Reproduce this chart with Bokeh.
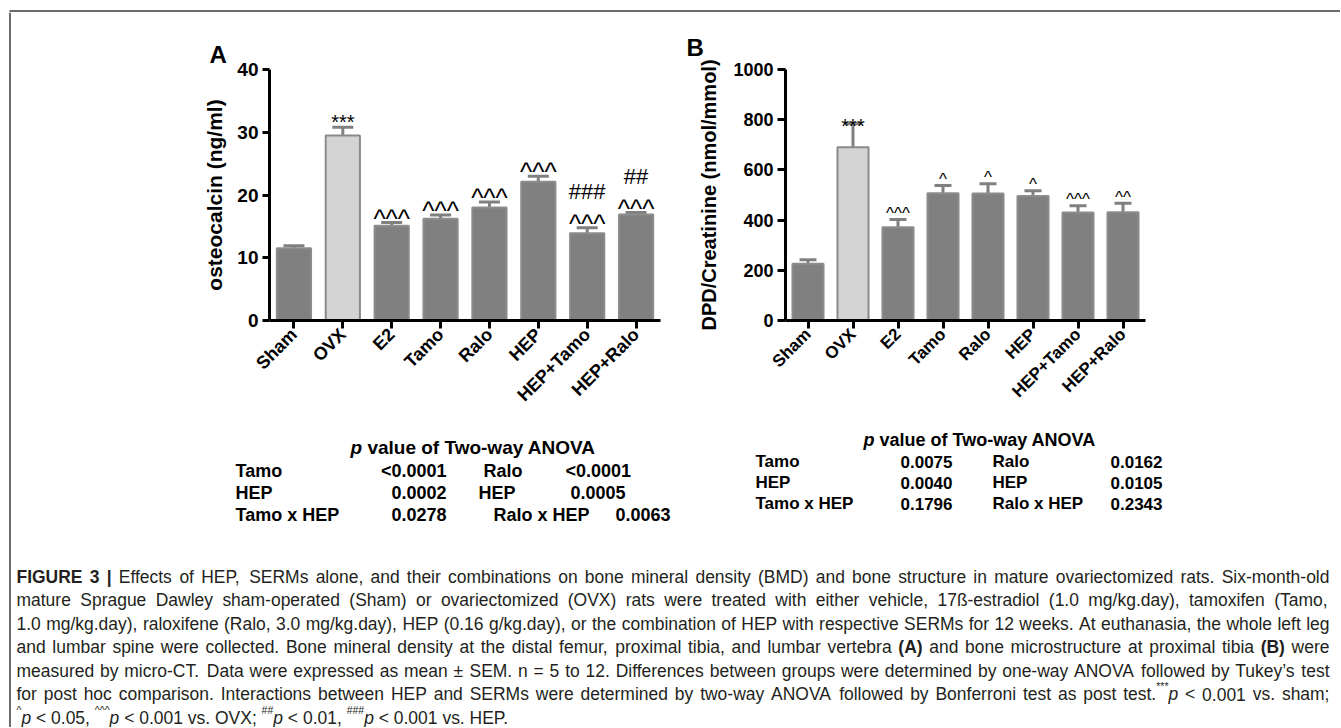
import math
from bokeh.plotting import figure
from bokeh.models import ColumnDataSource, Range1d, FactorRange, Whisker, TeeHead, FixedTicker
from bokeh.layouts import row, column
from bokeh.embed import file_html
from bokeh.resources import INLINE
from bokeh.core.properties import value

# ---------------- data ----------------
groups = ["Sham", "OVX", "E2", "Tamo", "Ralo", "HEP", "HEP+Tamo", "HEP+Ralo"]

osteocalcin_mean = [11.5, 29.5, 15.1, 16.2, 18.0, 22.1, 13.9, 16.9]
osteocalcin_sem = [0.4, 1.3, 0.5, 0.6, 0.9, 0.9, 0.9, 0.3]
osteocalcin_sig = ["", "***", "^^^", "^^^", "^^^", "^^^", "^^^", "^^^"]
osteocalcin_sig_hep = ["", "", "", "", "", "", "###", "##"]
osteocalcin_ticks = [0, 10, 20, 30, 40]

dpd_mean = [226, 690, 372, 507, 506, 496, 430, 431]
dpd_sem = [16, 94, 30, 31, 39, 21, 27, 36]
dpd_sig = ["", "***", "^^^", "^", "^", "^", "^^^", "^^"]
dpd_sig_hep = ["", "", "", "", "", "", "", ""]
dpd_ticks = [0, 200, 400, 600, 800, 1000]

anova_title = "value of Two-way ANOVA"
anova_a_tamo_terms = ["Tamo", "HEP", "Tamo x HEP"]
anova_a_tamo_p = ["<0.0001", "0.0002", "0.0278"]
anova_a_ralo_terms = ["Ralo", "HEP", "Ralo x HEP"]
anova_a_ralo_p = ["<0.0001", "0.0005", "0.0063"]
anova_b_tamo_terms = ["Tamo", "HEP", "Tamo x HEP"]
anova_b_tamo_p = ["0.0075", "0.0040", "0.1796"]
anova_b_ralo_terms = ["Ralo", "HEP", "Ralo x HEP"]
anova_b_ralo_p = ["0.0162", "0.0105", "0.2343"]

caption_lines = [
    [("b", "FIGURE 3 | "), ("n", "Effects of HEP, SERMs alone, and their combinations on bone mineral density (BMD) and bone structure in mature ovariectomized rats. Six-month-old")],
    [("n", "mature Sprague Dawley sham-operated (Sham) or ovariectomized (OVX) rats were treated with either vehicle, 17\u00df-estradiol (1.0 mg/kg.day), tamoxifen (Tamo,")],
    [("n", "1.0 mg/kg.day), raloxifene (Ralo, 3.0 mg/kg.day), HEP (0.16 g/kg.day), or the combination of HEP with respective SERMs for 12 weeks. At euthanasia, the whole left leg")],
    [("n", "and lumbar spine were collected. Bone mineral density at the distal femur, proximal tibia, and lumbar vertebra "), ("b", "(A)"), ("n", " and bone microstructure at proximal tibia "), ("b", "(B)"), ("n", " were")],
    [("n", "measured by micro-CT. Data were expressed as mean \u00b1 SEM. n = 5 to 12. Differences between groups were determined by one-way ANOVA followed by Tukey\u2019s test")],
    [("n", "for post hoc comparison. Interactions between HEP and SERMs were determined by two-way ANOVA followed by Bonferroni test as post test."), ("s", "***"), ("i", "p"), ("n", " < 0.001 vs. sham;")],
    [("s", "^"), ("i", "p"), ("n", " < 0.05, "), ("s", "^^^"), ("i", "p"), ("n", " < 0.001 vs. OVX; "), ("s", "##"), ("i", "p"), ("n", " < 0.01, "), ("s", "###"), ("i", "p"), ("n", " < 0.001 vs. HEP.")],
]

# ---------------- styling ----------------
SANS = "Liberation Sans"
BAR = "#808080"
BAR_LINE = "#8c8c8c"
OVX_FILL = "#d4d4d4"
OVX_LINE = "#8a8a8a"
BORDER = "#6b6b6b"
STRIP_T, STRIP_L = 12, 11        # border strips (top / left)
ORIGIN_X, ORIGIN_Y = STRIP_L, STRIP_T
SPLIT_Y = 425                    # bottom of the chart panels (page px)
PAGE_R, PAGE_B = 1340, 727

H_W = {' ': 278, '!': 278, '"': 355, '#': 556, '%': 889, '&': 667, "'": 191, '(': 333, ')': 333, '*': 389,
       '+': 584, ',': 278, '-': 333, '.': 278, '/': 278, ':': 278, ';': 278, '<': 584, '=': 584, '>': 584,
       '?': 556, '^': 469, '|': 260, '\u00b1': 584, '\u00df': 611, '\u2019': 222,
       'A': 667, 'B': 667, 'C': 722, 'D': 722, 'E': 667, 'F': 611, 'G': 778, 'H': 722, 'I': 278, 'J': 500,
       'K': 667, 'L': 556, 'M': 833, 'N': 722, 'O': 778, 'P': 667, 'Q': 778, 'R': 722, 'S': 667, 'T': 611,
       'U': 722, 'V': 667, 'W': 944, 'X': 667, 'Y': 667, 'Z': 611,
       'a': 556, 'b': 556, 'c': 500, 'd': 556, 'e': 556, 'f': 278, 'g': 556, 'h': 556, 'i': 222, 'j': 222,
       'k': 500, 'l': 222, 'm': 833, 'n': 556, 'o': 556, 'p': 556, 'q': 556, 'r': 333, 's': 500, 't': 278,
       'u': 556, 'v': 500, 'w': 722, 'x': 500, 'y': 500, 'z': 500}
HB_W = dict(H_W)
HB_W.update({'!': 333, ':': 333, ';': 333, '?': 611, '^': 584, '|': 280, 'A': 722, 'B': 722, 'J': 556,
             'K': 722, 'L': 611, 'b': 611, 'c': 556, 'd': 611, 'f': 333, 'g': 611, 'h': 611, 'i': 278,
             'j': 278, 'k': 556, 'l': 278, 'm': 889, 'n': 611, 'o': 611, 'p': 611, 'q': 611, 'r': 389,
             's': 556, 't': 333, 'u': 611, 'v': 556, 'w': 778, 'x': 556, 'y': 556})


def text_w(s, bold, size):
    tbl = HB_W if bold else H_W
    return sum(tbl.get(c, 556) for c in s) * size / 1000


def bar_panel(means, sems, sig, sig2, ticks, ylabel, letter, fig_left, fig_w, frame, st):
    left, right, top, bottom = frame
    p = figure(width=fig_w, height=SPLIT_Y - ORIGIN_Y,
               x_range=FactorRange(*groups), y_range=Range1d(0, ticks[-1]),
               output_backend="svg", toolbar_location=None,
               min_border_left=left - fig_left, min_border_right=fig_left + fig_w - right,
               min_border_top=top - ORIGIN_Y, min_border_bottom=SPLIT_Y - bottom,
               background_fill_color="white", border_fill_color="white")
    p.outline_line_color = None
    p.xgrid.visible = False
    p.ygrid.visible = False

    p.title.text = letter
    p.title.text_font = SANS
    p.title.text_font_size = "24px"
    p.title.text_font_style = "bold"
    p.title.text_color = "black"
    p.title.align = "left"
    p.title.offset = st['letter_x'] - left
    p.title.standoff = st['letter_standoff']

    upper = [m + s for m, s in zip(means, sems)]
    fills = [OVX_FILL if g == "OVX" else BAR for g in groups]
    lines = [OVX_LINE if g == "OVX" else BAR_LINE for g in groups]
    mfs = [f"{st['star_fs']}px" if m == "***" else f"{st['caret_fs']}px" for m in sig]
    moff = [st['star_off'] if m == "***" else st['caret_off'] for m in sig]
    src = ColumnDataSource(dict(x=groups, mean=means, upper=upper, fill=fills, line=lines,
                                sig=sig, sig2=sig2, mfs=mfs, moff=moff))

    p.vbar(x="x", top="mean", width=st['barw'], source=src, fill_color="fill",
           line_color="line", line_width=2)
    p.add_layout(Whisker(source=src, base="x", upper="upper", lower="mean", dimension="height",
                         line_color=BAR, line_width=3, lower_head=None,
                         upper_head=TeeHead(size=st['cap'], line_color=BAR, line_width=3)))
    p.text(x="x", y="upper", text="sig", source=src, text_align="center",
           text_baseline="alphabetic", text_font=value(SANS), text_font_size="mfs",
           y_offset="moff", text_color="black")
    p.text(x="x", y="upper", text="sig2", source=src, text_align="center",
           text_baseline="alphabetic", text_font=value(SANS), text_font_size=f"{st['hash_fs']}px",
           y_offset=st['hash_off'], text_color="black")

    yax = p.yaxis[0]
    yax.ticker = FixedTicker(ticks=ticks)
    yax.minor_tick_out = 0
    yax.major_tick_in = 0
    yax.major_tick_out = st['tick']
    yax.major_label_standoff = 4
    yax.axis_label = ylabel
    yax.axis_label_standoff = st['ylab_standoff']
    yax.axis_label_text_font = SANS
    yax.axis_label_text_font_style = "bold"
    yax.axis_label_text_color = "black"
    yax.axis_label_text_font_size = f"{st['ylab_fs']}px"
    yax.major_label_text_font_size = f"{st['ytick_fs']}px"

    xax = p.xaxis[0]
    xax.major_tick_in = 0
    xax.major_tick_out = 8
    xax.major_label_orientation = math.pi / 4
    xax.major_label_standoff = 3
    xax.major_label_text_font_size = f"{st['xtick_fs']}px"

    for ax in (xax, yax):
        ax.axis_line_width = 3
        ax.axis_line_color = "black"
        ax.major_tick_line_width = 3
        ax.major_tick_line_color = "black"
        ax.major_label_text_font = SANS
        ax.major_label_text_font_style = "bold"
        ax.major_label_text_color = "black"
    return p


# ---------------- chart panels ----------------
pa = bar_panel(osteocalcin_mean, osteocalcin_sem, osteocalcin_sig, osteocalcin_sig_hep,
               osteocalcin_ticks, "osteocalcin (ng/ml)", "A", ORIGIN_X, 680 - ORIGIN_X, (269, 660, 55, 322),
               dict(barw=0.7, cap=21, star_fs=20, star_off=-5, caret_fs=26, caret_off=-4,
                    hash_fs=22, hash_off=-36, tick=7, ylab_standoff=8, ylab_fs=21,
                    ytick_fs=19, xtick_fs=18, letter_x=209, letter_standoff=3))
pb = bar_panel(dpd_mean, dpd_sem, dpd_sig, dpd_sig_hep, dpd_ticks,
               "DPD/Creatinine (nmol/mmol)", "B", 680, PAGE_R - 680, (785, 1145, 69, 320),
               dict(barw=0.69, cap=17, star_fs=20, star_off=2, caret_fs=17, caret_off=-6,
                    hash_fs=20, hash_off=-30, tick=8, ylab_standoff=10, ylab_fs=20,
                    ytick_fs=18, xtick_fs=17, letter_x=686, letter_standoff=17))

# ---------------- tables + caption (page-pixel coordinates) ----------------
pc = figure(width=PAGE_R - ORIGIN_X, height=PAGE_B - SPLIT_Y,
            x_range=Range1d(ORIGIN_X, PAGE_R), y_range=Range1d(PAGE_B, SPLIT_Y),
            output_backend="svg", toolbar_location=None, x_axis_type=None, y_axis_type=None,
            min_border=0, background_fill_color="white", border_fill_color="white")
pc.outline_line_color = None
pc.grid.visible = False

texts = {}


def put(x, y, t, font_style, size, align="left", color="black"):
    key = (font_style, size, align, color)
    d = texts.setdefault(key, dict(x=[], y=[], t=[]))
    d["x"].append(x)
    d["y"].append(y)
    d["t"].append(t)


# two-way ANOVA tables
for (tx, ty, tfs) in [(350, 447, 19), (863, 439, 18)]:
    put(tx, ty, "p", "bold italic", tfs)
    put(tx + text_w("p ", True, tfs), ty, anova_title, "bold", tfs)

for i in range(3):
    yb = 470 + 22 * i
    put(235, yb, anova_a_tamo_terms[i], "bold", 18)
    put(446, yb, anova_a_tamo_p[i], "bold", 18, "right")
    put([483, 478, 493][i], yb, anova_a_ralo_terms[i], "bold", 18)
    put([565, 570, 615][i], yb, anova_a_ralo_p[i], "bold", 18)
for i in range(3):
    yb = 461 + 21 * i
    put(755, yb, anova_b_tamo_terms[i], "bold", 17)
    put(952, yb, anova_b_tamo_p[i], "bold", 17, "right")
    put(992, yb, anova_b_ralo_terms[i], "bold", 17)
    put(1162, yb, anova_b_ralo_p[i], "bold", 17, "right")

# justified caption
CAP_X0, CAP_X1 = 16, 1329
CAP_Y0, CAP_DY = 576, 23.5
CAP_COLOR = "#231f20"


def words_of(line):
    words, cur = [], []
    for style, txt in line:
        parts = txt.split(" ")
        for j, part in enumerate(parts):
            if j > 0 and cur:
                words.append(cur)
                cur = []
            if part:
                cur.append((style, part))
    if cur:
        words.append(cur)
    return words


def piece_w(style, txt, fs):
    return text_w(txt, style == "b", fs * 0.6 if style == "s" else fs)


line_words = [words_of(l) for l in caption_lines]
natural = [sum(piece_w(s, t, 1.0) for w in ws for s, t in w) + 0.278 * (len(ws) - 1) for ws in line_words[:-1]]
CAP_FS = min(19.0, 0.99 * (CAP_X1 - CAP_X0) / max(natural))
STYLE_MAP = {"n": "normal", "b": "bold", "i": "italic", "s": "normal"}

for i, ws in enumerate(line_words):
    y = CAP_Y0 + i * CAP_DY
    total = sum(piece_w(s, t, CAP_FS) for w in ws for s, t in w)
    if i < len(line_words) - 1 and len(ws) > 1:
        gap = (CAP_X1 - CAP_X0 - total) / (len(ws) - 1)
    else:
        gap = 0.278 * CAP_FS
    x = CAP_X0
    for w in ws:
        for s, t in w:
            if s == "s":
                put(x, y - CAP_FS * 0.42, t, "normal", round(CAP_FS * 0.6, 2), color=CAP_COLOR)
            else:
                put(x, y, t, STYLE_MAP[s], round(CAP_FS, 2), color=CAP_COLOR)
            x += piece_w(s, t, CAP_FS)
        x += gap

for (fst, size, align, color), d in texts.items():
    pc.text(x="x", y="y", text="t", source=ColumnDataSource(d), text_font=value(SANS),
            text_font_style=fst, text_font_size=f"{size}px", text_align=align,
            text_baseline="alphabetic", text_color=color)

# ---------------- border strips ----------------
top_strip = figure(width=PAGE_R, height=STRIP_T, x_range=Range1d(0, PAGE_R),
                   y_range=Range1d(STRIP_T, 0), output_backend="svg", toolbar_location=None,
                   x_axis_type=None, y_axis_type=None, min_border=0,
                   background_fill_color="white", border_fill_color="white")
top_strip.outline_line_color = None
top_strip.grid.visible = False
top_strip.segment(x0=[9], y0=[10.5], x1=[PAGE_R], y1=[10.5], line_color=BORDER, line_width=2)

left_strip = figure(width=STRIP_L, height=PAGE_B - STRIP_T, x_range=Range1d(0, STRIP_L),
                    y_range=Range1d(PAGE_B, STRIP_T), output_backend="svg", toolbar_location=None,
                    x_axis_type=None, y_axis_type=None, min_border=0,
                    background_fill_color="white", border_fill_color="white")
left_strip.outline_line_color = None
left_strip.grid.visible = False
left_strip.segment(x0=[9.5], y0=[STRIP_T], x1=[9.5], y1=[PAGE_B], line_color=BORDER, line_width=2)

layout = column(top_strip, row(left_strip, column(row(pa, pb), pc)))

open("out.html", "w").write(file_html(layout, INLINE))
